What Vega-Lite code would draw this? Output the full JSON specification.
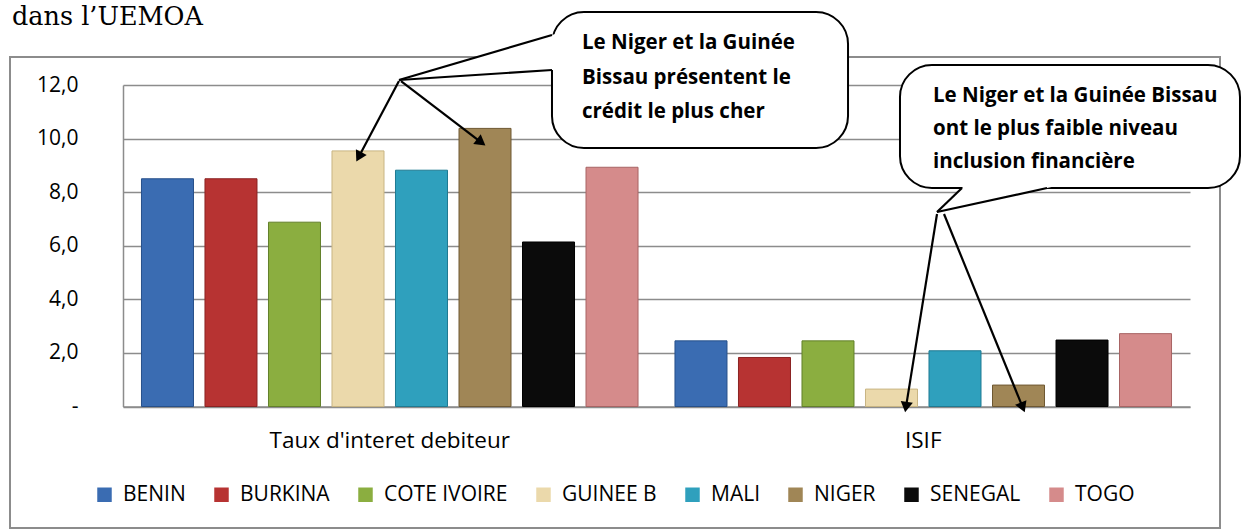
{
  "$schema": "https://vega.github.io/schema/vega-lite/v6.json",
  "width": 1210,
  "height": 471,
  "autosize": {"type": "none"},
  "padding": {"left": 10, "top": 57, "right": 22, "bottom": 3},
  "background": "white",
  "title": {"text": "dans l’UEMOA", "anchor": "start", "orient": "top", "offset": -40, "baseline": "alphabetic", "font": "DejaVu Serif", "fontSize": 25.5, "fontWeight": "normal", "color": "#000000", "dx": 2},
  "config": {"view": {"stroke": "#8c8c8c", "strokeWidth": 2}, "font": "Open Sans"},
  "datasets": {
    "bars": [
      {"cat": "Taux d'interet debiteur", "pays": "BENIN", "val": 8.5},
      {"cat": "Taux d'interet debiteur", "pays": "BURKINA", "val": 8.5},
      {"cat": "Taux d'interet debiteur", "pays": "COTE IVOIRE", "val": 6.88},
      {"cat": "Taux d'interet debiteur", "pays": "GUINEE B", "val": 9.54},
      {"cat": "Taux d'interet debiteur", "pays": "MALI", "val": 8.82},
      {"cat": "Taux d'interet debiteur", "pays": "NIGER", "val": 10.38},
      {"cat": "Taux d'interet debiteur", "pays": "SENEGAL", "val": 6.14},
      {"cat": "Taux d'interet debiteur", "pays": "TOGO", "val": 8.93},
      {"cat": "ISIF", "pays": "BENIN", "val": 2.45},
      {"cat": "ISIF", "pays": "BURKINA", "val": 1.83},
      {"cat": "ISIF", "pays": "COTE IVOIRE", "val": 2.45},
      {"cat": "ISIF", "pays": "GUINEE B", "val": 0.65},
      {"cat": "ISIF", "pays": "MALI", "val": 2.08},
      {"cat": "ISIF", "pays": "NIGER", "val": 0.8},
      {"cat": "ISIF", "pays": "SENEGAL", "val": 2.48},
      {"cat": "ISIF", "pays": "TOGO", "val": 2.72}
    ],
    "bubbles": [
      {"u": 0.8041, "u2": 1.359, "v": 14.725, "v2": 9.649},
      {"u": 1.4564, "u2": 2.0937, "v": 12.746, "v2": 8.155}
    ],
    "tail1": [
      {"u": 0.5173, "v": 12.187, "v2": 12.187},
      {"u": 0.8135, "v": 13.922, "v2": 12.572}
    ],
    "tail2": [
      {"v": 7.26, "u": 1.5258, "u2": 1.5258},
      {"v": 8.305, "u": 1.5805, "u2": 1.7663}
    ],
    "lines": [
      {"u": 0.5173, "v": 12.187, "u2": 0.8041, "v2": 13.866},
      {"u": 0.5173, "v": 12.187, "u2": 0.8041, "v2": 12.56},
      {"u": 1.5258, "v": 7.26, "u2": 1.5726, "v2": 8.155},
      {"u": 1.5258, "v": 7.26, "u2": 1.732, "v2": 8.155},
      {"u": 0.5173, "v": 12.149, "u2": 0.442, "v2": 9.324},
      {"u": 0.5211, "v": 12.149, "u2": 0.6714, "v2": 9.858},
      {"u": 1.5258, "v": 7.185, "u2": 1.4676, "v2": -0.022},
      {"u": 1.5389, "v": 7.185, "u2": 1.6865, "v2": -0.035}
    ],
    "heads": [
      {"u": 0.442, "v": 9.324, "a": 208},
      {"u": 0.6714, "v": 9.858, "a": 127.4},
      {"u": 1.4676, "v": -0.022, "a": 189.1},
      {"u": 1.6865, "v": -0.035, "a": 157.85}
    ],
    "texts": [
      {"u": 0.8604, "v": 13.554, "t": "Le Niger et la Guinée"},
      {"u": 0.8604, "v": 12.243, "t": "Bissau présentent le"},
      {"u": 0.8604, "v": 10.993, "t": "crédit le plus cher"},
      {"u": 1.5183, "v": 11.589, "t": "Le Niger et la Guinée Bissau"},
      {"u": 1.5183, "v": 10.358, "t": "ont le plus faible niveau"},
      {"u": 1.5183, "v": 9.126, "t": "inclusion financière"}
    ]
  },
  "resolve": {"scale": {"x": "independent"}, "axis": {"x": "independent", "y": "independent"}},
  "layer": [
    {
      "data": {"name": "bars"},
      "mark": {"type": "bar", "strokeWidth": 1},
      "encoding": {
        "x": {"field": "cat", "type": "nominal", "sort": ["Taux d'interet debiteur", "ISIF"],
          "scale": {"range": [113, 1180], "paddingInner": 0, "paddingOuter": 0},
          "axis": {"title": null, "orient": "bottom", "offset": -121.5, "ticks": false, "labelPadding": 33.5, "labelBaseline": "middle", "labelAngle": 0, "labelFontSize": 22.5, "labelFont": "Open Sans", "labelLimit": 500, "labelColor": "#000000", "domainColor": "#8c8c8c", "domainWidth": 1.5, "grid": false}},
        "xOffset": {"field": "pays", "type": "nominal", "sort": ["BENIN", "BURKINA", "COTE IVOIRE", "GUINEE B", "MALI", "NIGER", "SENEGAL", "TOGO"],
          "scale": {"paddingInner": 0.181, "paddingOuter": 0.291}},
        "y": {"field": "val", "type": "quantitative",
          "scale": {"domain": [0, 12], "range": [349.5, 28], "nice": false, "zero": true},
          "axis": {"title": null, "values": [0, 2, 4, 6, 8, 10, 12], "offset": -113, "ticks": false, "tickSize": 0, "labelPadding": 45, "labelExpr": "datum.value == 0 ? '-' : replace(format(datum.value, '.1f'), '.', ',')", "labelFontSize": 21, "labelFont": "Open Sans", "labelColor": "#000000", "grid": true, "gridColor": "#8c8c8c", "gridWidth": 1.5, "domainColor": "#8c8c8c", "domainWidth": 1.5}},
        "fill": {"field": "pays", "type": "nominal",
          "scale": {"domain": ["BENIN", "BURKINA", "COTE IVOIRE", "GUINEE B", "MALI", "NIGER", "SENEGAL", "TOGO"],
            "range": ["#3a6cb2", "#b73332", "#8bae40", "#ebd9ab", "#2fa0bd", "#a08656", "#0b0b0b", "#d58b8b"]},
          "legend": {"orient": "none", "legendX": 84, "legendY": 427, "direction": "horizontal", "columns": 8, "title": null, "symbolType": "square", "symbolSize": 210, "symbolStrokeWidth": 0, "labelFontSize": 21, "labelFont": "Open Sans", "labelColor": "#000000", "columnPadding": 25, "labelOffset": 8}},
        "stroke": {"field": "pays", "type": "nominal",
          "scale": {"domain": ["BENIN", "BURKINA", "COTE IVOIRE", "GUINEE B", "MALI", "NIGER", "SENEGAL", "TOGO"],
            "range": ["#27508a", "#8a2222", "#62802a", "#c8b583", "#1f7a92", "#6e5832", "#000000", "#a86464"]},
          "legend": null}
      }
    },
    {
      "data": {"name": "bubbles"},
      "mark": {"type": "rect", "cornerRadius": 32, "fill": "white", "stroke": "black", "strokeWidth": 2},
      "encoding": {
        "x": {"field": "u", "type": "quantitative", "scale": {"domain": [0, 2], "range": [113, 1180], "nice": false, "zero": false}, "axis": null},
        "x2": {"field": "u2"},
        "y": {"field": "v", "type": "quantitative", "scale": {"domain": [0, 12], "range": [349.5, 28], "nice": false, "zero": true}, "axis": null},
        "y2": {"field": "v2"}
      }
    },
    {
      "data": {"name": "tail1"},
      "mark": {"type": "area", "fill": "white", "opacity": 1},
      "encoding": {
        "x": {"field": "u", "type": "quantitative", "scale": {"domain": [0, 2], "range": [113, 1180], "nice": false, "zero": false}, "axis": null},
        "y": {"field": "v", "type": "quantitative", "scale": {"domain": [0, 12], "range": [349.5, 28], "nice": false, "zero": true}, "axis": null},
        "y2": {"field": "v2"}
      }
    },
    {
      "data": {"name": "tail2"},
      "mark": {"type": "area", "orient": "horizontal", "fill": "white", "opacity": 1},
      "encoding": {
        "x": {"field": "u", "type": "quantitative", "scale": {"domain": [0, 2], "range": [113, 1180], "nice": false, "zero": false}, "axis": null},
        "x2": {"field": "u2"},
        "y": {"field": "v", "type": "quantitative", "scale": {"domain": [0, 12], "range": [349.5, 28], "nice": false, "zero": true}, "axis": null}
      }
    },
    {
      "data": {"name": "lines"},
      "mark": {"type": "rule", "color": "black", "strokeWidth": 2.2},
      "encoding": {
        "x": {"field": "u", "type": "quantitative", "scale": {"domain": [0, 2], "range": [113, 1180], "nice": false, "zero": false}, "axis": null},
        "x2": {"field": "u2"},
        "y": {"field": "v", "type": "quantitative", "scale": {"domain": [0, 12], "range": [349.5, 28], "nice": false, "zero": true}, "axis": null},
        "y2": {"field": "v2"}
      }
    },
    {
      "data": {"name": "heads"},
      "mark": {"type": "point", "shape": "triangle-up", "filled": true, "color": "black", "size": 150, "opacity": 1},
      "encoding": {
        "x": {"field": "u", "type": "quantitative", "scale": {"domain": [0, 2], "range": [113, 1180], "nice": false, "zero": false}, "axis": null},
        "y": {"field": "v", "type": "quantitative", "scale": {"domain": [0, 12], "range": [349.5, 28], "nice": false, "zero": true}, "axis": null},
        "angle": {"field": "a", "type": "quantitative", "scale": null}
      }
    },
    {
      "data": {"name": "texts"},
      "mark": {"type": "text", "align": "left", "baseline": "middle", "font": "Open Sans", "fontWeight": "bold", "fontSize": 20.5, "color": "#000000"},
      "encoding": {
        "x": {"field": "u", "type": "quantitative", "scale": {"domain": [0, 2], "range": [113, 1180], "nice": false, "zero": false}, "axis": null},
        "y": {"field": "v", "type": "quantitative", "scale": {"domain": [0, 12], "range": [349.5, 28], "nice": false, "zero": true}, "axis": null},
        "text": {"field": "t"}
      }
    }
  ]
}
